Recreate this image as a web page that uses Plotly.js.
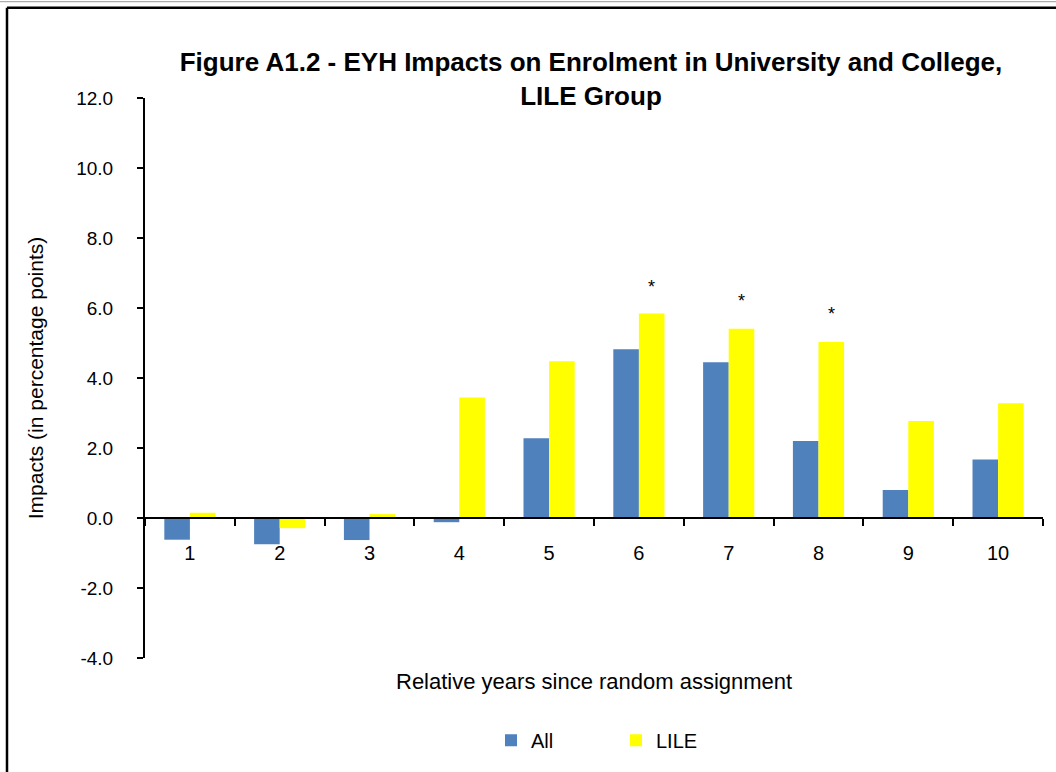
<!DOCTYPE html>
<html>
<head>
<meta charset="utf-8">
<script src="https://cdn.plot.ly/plotly-3.0.1.min.js"></script>
<style>
  body { margin: 0; background: #fff; }
  #plot { width: 1056px; height: 772px; }
</style>
</head>
<body>
<div id="plot"></div>
<script>
// Years since random assignment
let years = ['1', '2', '3', '4', '5', '6', '7', '8', '9', '10'];

// Impacts in percentage points
let allImpacts = [-0.62, -0.75, -0.63, -0.12, 2.28, 4.82, 4.45, 2.20, 0.80, 1.67];
let lileImpacts = [0.15, -0.29, 0.11, 3.44, 4.48, 5.84, 5.41, 5.03, 2.77, 3.28];

// Years where the LILE impact is marked significant, and where the star sits
let starYears = ['6', '7', '8'];
let starHeights = [6.75, 6.35, 5.96];

// y ticks, labelled with a plain hyphen like the original
let yTicks = [-4, -2, 0, 2, 4, 6, 8, 10, 12];
let yTickText = ['-4.0', '-2.0', '0.0', '2.0', '4.0', '6.0', '8.0', '10.0', '12.0'];

let font = '"Liberation Sans", Arial, sans-serif';

let traceAll = {
    x: years,
    y: allImpacts,
    name: 'All',
    type: 'bar',
    marker: {color: '#4f81bd'},
    hoverinfo: 'y'
};

let traceLile = {
    x: years,
    y: lileImpacts,
    name: 'LILE',
    type: 'bar',
    marker: {color: '#ffff00'},
    hoverinfo: 'y'
};

let data = [traceAll, traceLile];

// stars above the LILE bars (shifted half a bar to the right)
// category axis annotations take the serial number of the category
let stars = starYears.map(function (yr, i) {
    return {
        x: years.indexOf(yr), y: starHeights[i], xref: 'x', yref: 'y',
        text: '*', showarrow: false, xshift: 13, yshift: -5,
        font: {family: font, size: 18, color: '#000'}
    };
});

// x axis title sits well below the zero line, so it is placed as an annotation
let xTitle = {
    text: 'Relative years since random assignment',
    xref: 'paper', yref: 'paper', x: 0.5, y: (662 - 686) / 564,
    xanchor: 'center', yanchor: 'middle', showarrow: false,
    font: {family: font, size: 22, color: '#000'}
};

let layout = {
    width: 1056,
    height: 772,
    paper_bgcolor: '#fff',
    plot_bgcolor: '#fff',
    font: {family: font, size: 20, color: '#000'},
    margin: {l: 145, r: 13, t: 98, b: 110},
    title: {
        text: '<b>Figure A1.2 - EYH Impacts on Enrolment in University and College,<br>LILE Group</b>',
        font: {family: font, size: 26, color: '#000'},
        x: 591 / 1056, xanchor: 'center',
        y: 1 - 71 / 772, yanchor: 'middle'
    },
    barmode: 'group',
    bargap: 0.43,
    bargroupgap: 0,
    xaxis: {
        type: 'category',
        anchor: 'free',
        position: 0.25,
        showline: true,
        linecolor: '#000',
        linewidth: 2,
        ticks: 'outside',
        tickson: 'boundaries',
        ticklen: 7,
        tickwidth: 2,
        tickcolor: '#000',
        showgrid: false,
        zeroline: false,
        tickfont: {size: 20},
        ticklabelstandoff: 17
    },
    yaxis: {
        range: [-4, 12],
        tickvals: yTicks,
        ticktext: yTickText,
        showline: true,
        linecolor: '#000',
        linewidth: 2,
        ticks: 'outside',
        ticklen: 6,
        tickwidth: 2,
        tickcolor: '#000',
        showgrid: false,
        zeroline: false,
        tickfont: {size: 19},
        ticklabelstandoff: 20,
        title: {
            text: 'Impacts (in percentage points)',
            font: {size: 21},
            standoff: 27
        }
    },
    legend: {
        orientation: 'h',
        x: 0.5 + 22 / 898, xanchor: 'center',
        y: -0.147, yanchor: 'middle',
        entrywidth: 80,
        entrywidthmode: 'pixels',
        font: {size: 20}
    },
    annotations: stars.concat([xTitle]),
    shapes: [
        // frame round the figure
        {type: 'line', xref: 'paper', yref: 'paper', x0: -0.2, x1: 1.1, y0: (662 - 1) / 564, y1: (662 - 1) / 564,
         line: {color: '#999', width: 1}},
        {type: 'line', xref: 'paper', yref: 'paper', x0: (7 - 145) / 898, x1: 1.1, y0: (662 - 7) / 564, y1: (662 - 7) / 564,
         line: {color: '#000', width: 2.5}},
        {type: 'line', xref: 'paper', yref: 'paper', x0: (7 - 145) / 898, x1: (7 - 145) / 898, y0: (662 - 7) / 564, y1: -0.3,
         line: {color: '#000', width: 2.5}}
    ],
    showlegend: true
};

Plotly.newPlot('plot', data, layout, {displayModeBar: false, staticPlot: true});
</script>
</body>
</html>
